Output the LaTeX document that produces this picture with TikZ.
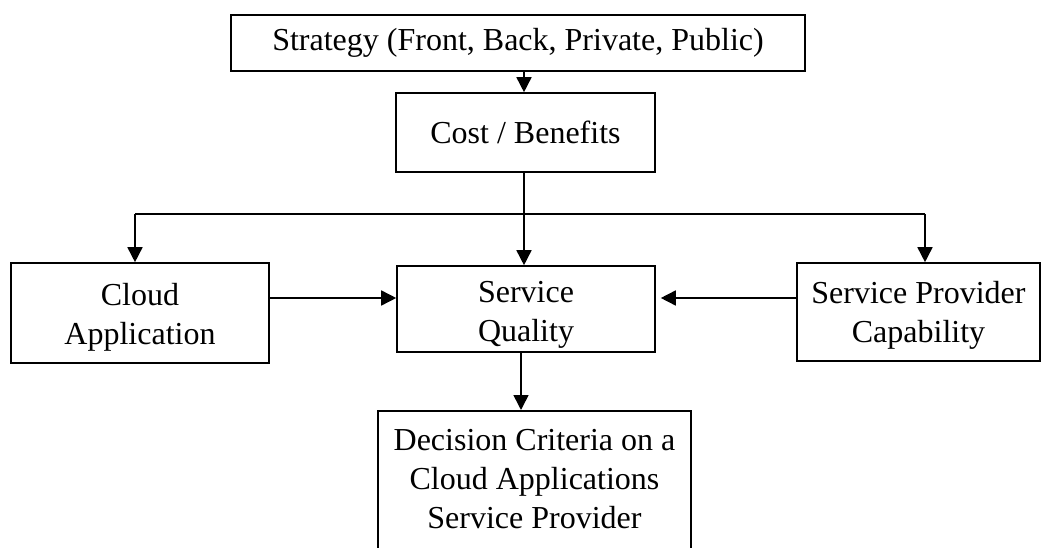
\documentclass[tikz,border=0pt]{standalone}
\usepackage{fontspec}
\setmainfont{Liberation Serif}
\usetikzlibrary{arrows.meta}
\begin{document}
\begin{tikzpicture}[x=1pt,y=-1pt,
  box/.style={draw, line width=1.6pt, inner sep=0pt, align=center, font=\fontsize{32}{39}\selectfont},
  txt/.style={inner sep=0pt, align=center, font=\fontsize{32}{39}\selectfont},
  arr/.style={line width=1.6pt, -{Triangle[length=15pt,width=15pt]}},
  ln/.style={line width=1.6pt}]
\useasboundingbox (0,0) rectangle (1042,548);
\clip (0,0) rectangle (1042,548);
\fill[white] (0,0) rectangle (1042,548);
\node (st) [box, minimum width=574, minimum height=56] at (518,43) {Strategy (Front, Back, Private, Public)};
\node (cb) [box, minimum width=259, minimum height=79] at (525.5,132.5) {Cost / Benefits};
\node (ca) [box, minimum width=258, minimum height=100] at (140,313) {};
\node (cat) [txt] at (140,317) {Cloud\\Application};
\node (sq) [box, minimum width=258, minimum height=86] at (526,309) {};
\node (sqt) [txt] at (526,315) {Service\\Quality};
\node (sp) [box, minimum width=243, minimum height=98] at (918.5,312) {};
\node (spt) [txt] at (918.5,315) {Service Provider\\Capability};
\node (dc) [box, minimum width=313, minimum height=170, anchor=north] at (534.5,410) {};
\node (dct) [txt] at (534.5,479) {Decision Criteria on a\\Cloud Applications\\Service Provider};
\coordinate (hl) at (135,214);
\coordinate (hr) at (925,214);
\draw[arr] (st.south -| 524,0) -- (cb.north -| 524,0);
\draw[ln] (cb.south -| 524,0) -- (524,214);
\draw[ln] (hl) -- (hr);
\draw[arr] (hl) -- (ca.north -| hl);
\draw[arr] (hr) -- (sp.north -| hr);
\draw[arr] (524,214) -- (sq.north -| 524,0);
\draw[arr] (ca.east |- 0,298) -- (sq.west |- 0,298);
\draw[arr] (sp.west |- 0,298) -- ([xshift=5pt]sq.east |- 0,298);
\draw[arr] (sq.south -| 521,0) -- (dc.north -| 521,0);
\end{tikzpicture}
\end{document}
